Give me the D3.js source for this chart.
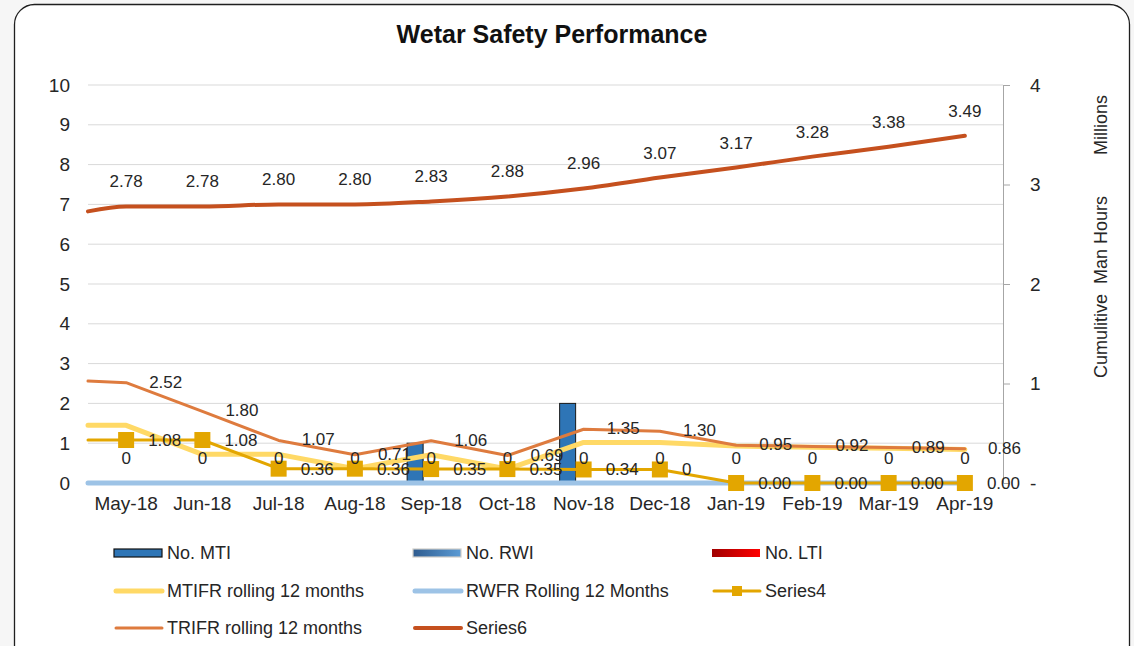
<!DOCTYPE html>
<html>
<head>
<meta charset="utf-8">
<script src="https://cdn.jsdelivr.net/npm/d3@7"></script>
<style>
  body { margin: 0; background: #f6f6f6; }
  svg { display: block; font-family: "Liberation Sans", Arial, sans-serif; }
</style>
</head>
<body>
<svg id="chart" width="1134" height="646"></svg>
<script>
// chart data
const months = ["May-18", "Jun-18", "Jul-18", "Aug-18", "Sep-18", "Oct-18",
  "Nov-18", "Dec-18", "Jan-19", "Feb-19", "Mar-19", "Apr-19"];
const noMTI = [0, 0, 0, 0, 1, 0, 2, 0, 0, 0, 0, 0];
const noRWI = [0, 0, 0, 0, 0, 0, 0, 0, 0, 0, 0, 0];
const noLTI = [0, 0, 0, 0, 0, 0, 0, 0, 0, 0, 0, 0];
const mtifr = [1.45, 0.72, 0.72, 0.36, 0.71, 0.35, 1.02, 1.02, 0.93, 0.90, 0.87, 0.84];
const rwfr = [0, 0, 0, 0, 0, 0, 0, 0, 0, 0, 0, 0];
const series4 = [1.08, 1.08, 0.36, 0.36, 0.35, 0.35, 0.34, 0.34, 0, 0, 0, 0];
const series4Labels = ["1.08", "1.08", "0.36", "0.36", "0.35", "0.35", "0.34", "0", "0.00", "0.00", "0.00", "0.00"];
const trifr = [2.52, 1.80, 1.07, 0.71, 1.06, 0.69, 1.35, 1.30, 0.95, 0.92, 0.89, 0.86];
const series6 = [2.78, 2.78, 2.80, 2.80, 2.83, 2.88, 2.96, 3.07, 3.17, 3.28, 3.38, 3.49]; // millions
// value each line has where it enters at the left edge of the plot
const mtifrStart = 1.45, rwfrStart = 0, series4Start = 1.08, trifrStart = 2.56, series6Start = 2.73;
const leftTicks = [0, 1, 2, 3, 4, 5, 6, 7, 8, 9, 10];
const rightTicks = [0, 1, 2, 3, 4];

const svg = d3.select("#chart");
const plotLeft = 88, plotRight = 1003, plotTop = 85, plotBottom = 483;
const ink = "#262626";

// frame
svg.append("rect")
  .attr("x", 14.5).attr("y", 4.5).attr("width", 1115).attr("height", 680)
  .attr("rx", 20).attr("fill", "#fff").attr("stroke", "#1f1f1f").attr("stroke-width", 1.3);

svg.append("text")
  .attr("x", 552).attr("y", 43).attr("text-anchor", "middle")
  .attr("font-size", 25).attr("font-weight", "bold").attr("fill", "#111")
  .text("Wetar Safety Performance");

const x = d3.scaleBand().domain(months).range([plotLeft, plotRight]).padding(0);
const cx = m => x(m) + x.bandwidth() / 2;
const y = d3.scaleLinear().domain([0, 10]).range([plotBottom, plotTop]);
const y2 = d3.scaleLinear().domain([0, 4]).range([plotBottom, plotTop]);

// gridlines
svg.append("g").selectAll("line").data(leftTicks.slice(1)).enter().append("line")
  .attr("x1", plotLeft).attr("x2", plotRight)
  .attr("y1", d => y(d)).attr("y2", d => y(d))
  .attr("stroke", "#d9d9d9").attr("stroke-width", 1);

// left axis
const leftAxis = svg.append("g")
  .attr("transform", `translate(${plotLeft - 9},0)`)
  .call(d3.axisLeft(y).tickValues(leftTicks).tickSize(0).tickPadding(9));
leftAxis.select(".domain").remove();
leftAxis.selectAll("text").attr("font-size", 19).attr("fill", ink)
  .attr("font-family", "Liberation Sans, Arial, sans-serif");

// right axis
const rightAxis = svg.append("g")
  .attr("transform", `translate(${plotRight},0)`)
  .call(d3.axisRight(y2).tickValues(rightTicks).tickSize(7).tickPadding(20)
    .tickFormat(d => d === 0 ? "-" : d));
rightAxis.select(".domain").attr("stroke", "#a6a6a6");
rightAxis.selectAll(".tick line").attr("stroke", "#a6a6a6");
rightAxis.selectAll(".tick").filter(d => d === 0).select("line").remove();
rightAxis.selectAll("text").attr("font-size", 19).attr("fill", ink)
  .attr("font-family", "Liberation Sans, Arial, sans-serif");

svg.append("text").attr("transform", "translate(1107,125) rotate(-90)")
  .attr("text-anchor", "middle").attr("font-size", 18).attr("fill", ink).text("Millions");
svg.append("text").attr("transform", "translate(1107,287) rotate(-90)")
  .attr("text-anchor", "middle").attr("font-size", 18).attr("fill", ink)
  .attr("xml:space", "preserve").text("Cumulitive  Man Hours");

// x axis labels
const xAxis = svg.append("g")
  .attr("transform", `translate(0,${plotBottom})`)
  .call(d3.axisBottom(x).tickSize(0).tickPadding(14));
xAxis.select(".domain").remove();
xAxis.selectAll("text").attr("font-size", 19).attr("fill", ink)
  .attr("font-family", "Liberation Sans, Arial, sans-serif");

// clustered bars
const inner = d3.scaleBand().domain(["mti", "rwi", "lti"]).range([-24, 24]);
const barSets = [
  { key: "mti", vals: noMTI, fill: "#2E75B6" },
  { key: "rwi", vals: noRWI, fill: "#4A86C5" },
  { key: "lti", vals: noLTI, fill: "#E00000" }
];
barSets.forEach(s => {
  svg.append("g").selectAll("rect").data(s.vals.map((v, i) => ({ m: months[i], v })))
    .enter().filter(d => d.v > 0).append("rect")
    .attr("x", d => cx(d.m) + inner(s.key))
    .attr("width", inner.bandwidth())
    .attr("y", d => y(d.v))
    .attr("height", d => y(0) - y(d.v))
    .attr("fill", s.fill).attr("stroke", "#1a1a1a").attr("stroke-width", 1);
});

function linePts(start, vals, scale) {
  return [{ px: plotLeft, py: scale(start) }].concat(vals.map((v, i) => ({ px: cx(months[i]), py: scale(v) })));
}
function drawLine(pts, color, width, curve) {
  svg.append("path").datum(pts)
    .attr("d", d3.line().x(d => d.px).y(d => d.py).curve(curve || d3.curveLinear))
    .attr("fill", "none").attr("stroke", color).attr("stroke-width", width)
    .attr("stroke-linejoin", "round").attr("stroke-linecap", "round");
}

drawLine(linePts(rwfrStart, rwfr, y), "#9DC3E6", 5);
drawLine(linePts(mtifrStart, mtifr, y), "#FFD966", 5);
drawLine(linePts(series4Start, series4, y), "#E3A600", 3);
svg.append("g").selectAll("rect").data(series4.map((v, i) => ({ m: months[i], v })))
  .enter().append("rect")
  .attr("x", d => cx(d.m) - 8).attr("y", d => y(d.v) - 8)
  .attr("width", 16).attr("height", 16).attr("fill", "#E3A600");
drawLine(linePts(trifrStart, trifr, y), "#DE7B3E", 3);
drawLine(linePts(series6Start, series6, y2), "#C5501E", 4, d3.curveMonotoneX);

// data labels
const lbl = svg.append("g").attr("font-size", 17).attr("fill", ink);
// zero labels of the injury counts
lbl.selectAll(".zl").data(noLTI.map((v, i) => ({ m: months[i], v })))
  .enter().append("text").attr("class", "zl")
  .attr("x", d => cx(d.m)).attr("y", d => y(d.v) - 19)
  .attr("text-anchor", "middle").text(d => d.v);
lbl.selectAll(".s4").data(series4.map((v, i) => ({ m: months[i], v, t: series4Labels[i] })))
  .enter().append("text").attr("class", "s4")
  .attr("x", d => cx(d.m) + 22).attr("y", d => y(d.v) + 6).text(d => d.t);
lbl.selectAll(".tr").data(trifr.map((v, i) => ({ m: months[i], v })))
  .enter().append("text").attr("class", "tr")
  .attr("x", d => cx(d.m) + 23).attr("y", d => y(d.v) + 5).text(d => d.v.toFixed(2));
lbl.selectAll(".s6").data(series6.map((v, i) => ({ m: months[i], v })))
  .enter().append("text").attr("class", "s6")
  .attr("x", d => cx(d.m)).attr("y", d => y2(d.v) - 19)
  .attr("text-anchor", "middle").text(d => d.v.toFixed(2));

// legend
const defs = svg.append("defs");
const g1 = defs.append("linearGradient").attr("id", "rwiGrad");
g1.append("stop").attr("offset", "0%").attr("stop-color", "#2F5C8F");
g1.append("stop").attr("offset", "100%").attr("stop-color", "#5B9BD5");
const g2 = defs.append("linearGradient").attr("id", "ltiGrad");
g2.append("stop").attr("offset", "0%").attr("stop-color", "#A00000");
g2.append("stop").attr("offset", "100%").attr("stop-color", "#FF0000");

const legendItems = [
  { name: "No. MTI", col: 0, row: 0, type: "box", fill: "#2E75B6", stroke: "#111" },
  { name: "No. RWI", col: 1, row: 0, type: "box", fill: "url(#rwiGrad)", stroke: "#d0cec8" },
  { name: "No. LTI", col: 2, row: 0, type: "box", fill: "url(#ltiGrad)", stroke: "none" },
  { name: "MTIFR rolling 12 months", col: 0, row: 1, type: "line", color: "#FFD966", w: 5 },
  { name: "RWFR Rolling 12 Months", col: 1, row: 1, type: "line", color: "#9DC3E6", w: 5 },
  { name: "Series4", col: 2, row: 1, type: "marker", color: "#E3A600", w: 3 },
  { name: "TRIFR rolling 12 months", col: 0, row: 2, type: "line", color: "#DE7B3E", w: 3 },
  { name: "Series6", col: 1, row: 2, type: "line", color: "#C5501E", w: 4 }
];
const colX = [114, 413, 712], rowY = [553, 591, 628];
const leg = svg.append("g");
legendItems.forEach(it => {
  const lx = colX[it.col], ly = rowY[it.row];
  if (it.type === "box") {
    leg.append("rect").attr("x", lx).attr("y", ly - 4).attr("width", 48).attr("height", 8)
      .attr("fill", it.fill).attr("stroke", it.stroke).attr("stroke-width", 1.2);
  } else {
    leg.append("line").attr("x1", lx + 2).attr("x2", lx + 48).attr("y1", ly).attr("y2", ly)
      .attr("stroke", it.color).attr("stroke-width", it.w).attr("stroke-linecap", "round");
    if (it.type === "marker") {
      leg.append("rect").attr("x", lx + 20).attr("y", ly - 5).attr("width", 10).attr("height", 10)
        .attr("fill", it.color);
    }
  }
  leg.append("text").attr("x", lx + 53).attr("y", ly + 6)
    .attr("font-size", 18).attr("fill", ink).text(it.name);
});
</script>
</body>
</html>
